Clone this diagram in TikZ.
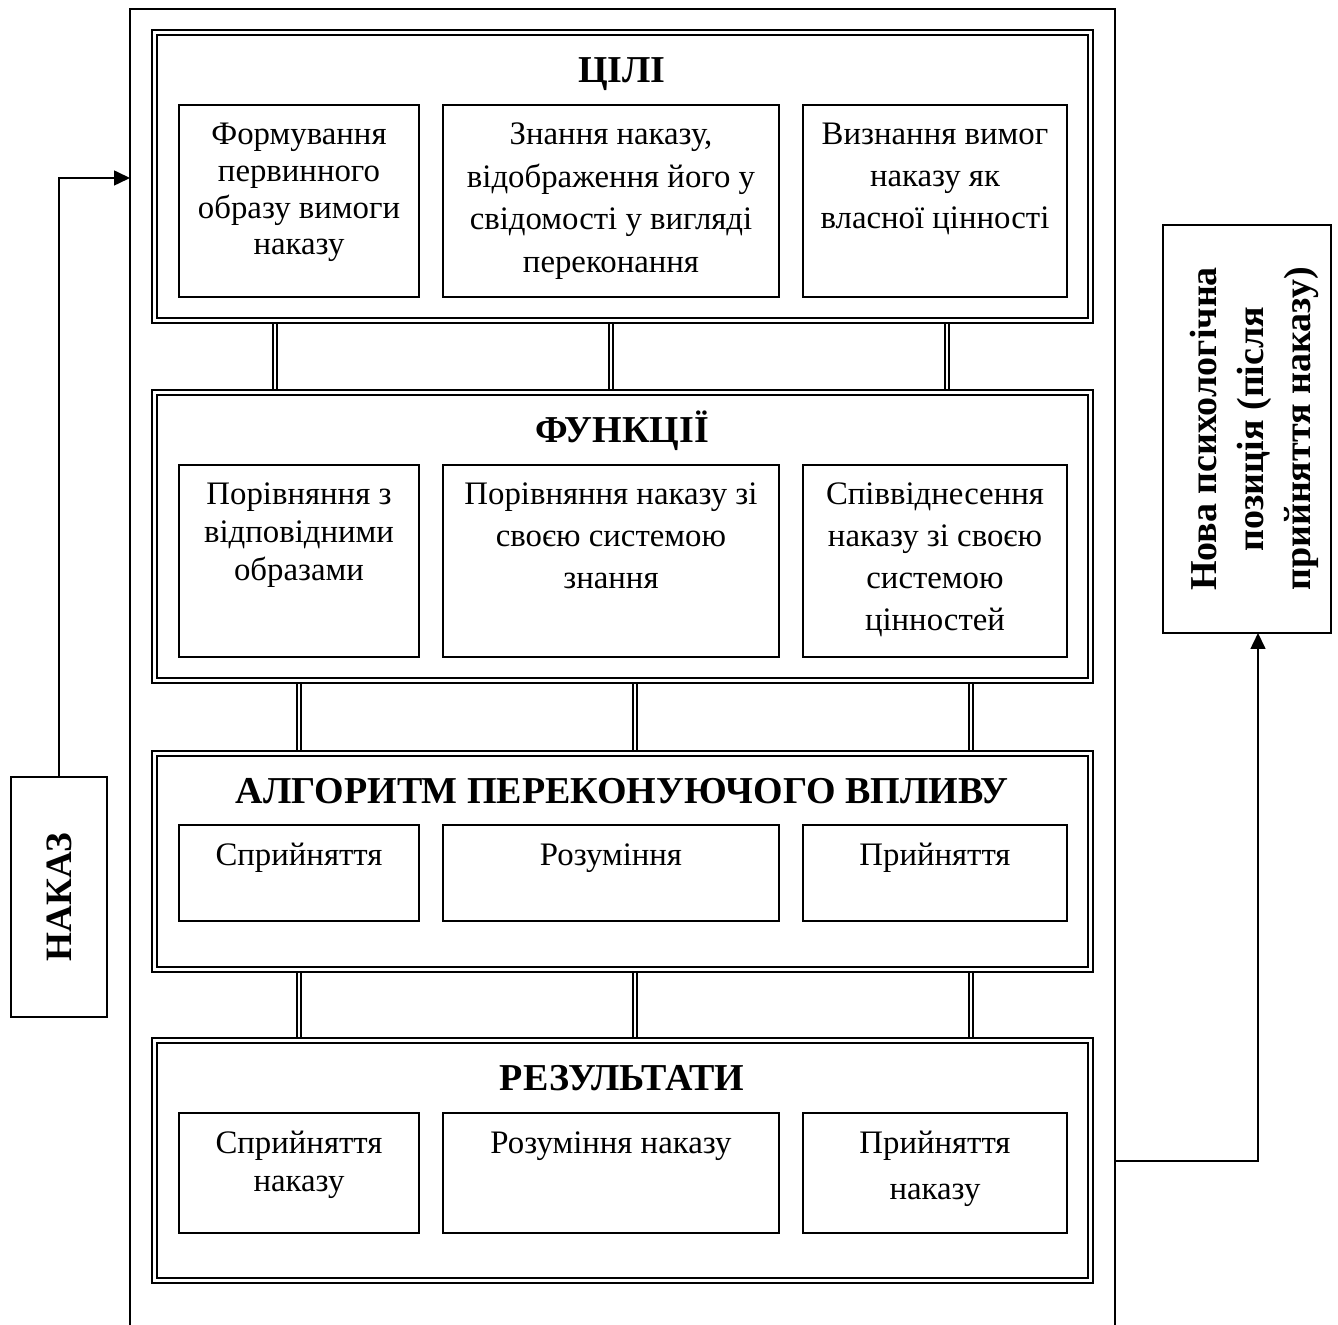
\documentclass[tikz,border=0pt]{standalone}
\usepackage{fontspec}
\setmainfont{Liberation Serif}
\usetikzlibrary{arrows.meta, positioning}

\tikzstyle{outerbox} = [rectangle, draw=black, line width=0.8pt, inner sep=0pt, outer sep=0pt]
\tikzstyle{groupbox} = [rectangle, draw=black, double, double distance=1.5pt, line width=1pt, inner sep=0pt, outer sep=0pt]
\tikzstyle{cellbox} = [rectangle, draw=black, line width=0.8pt, inner sep=0pt, outer sep=0pt]
\tikzstyle{heading} = [inner sep=0pt, font=\fontsize{19}{23}\selectfont\bfseries]
\tikzstyle{sidebox} = [rectangle, draw=black, line width=0.8pt, outer sep=0pt, rotate=90, align=center]
\tikzstyle{link} = [double, double distance=1.25pt, line width=0.75pt, shorten <=1.75pt, shorten >=1.75pt]
\tikzstyle{arrow} = [line width=0.8pt, -{Triangle[length=8pt, width=7.5pt]}]

% text of one cell: height, width, line skip, lines
\newcommand{\cellpar}[4]{\parbox[t][#1][t]{#2}{\centering\fontsize{16.4}{#3}\selectfont\rule{0pt}{20pt}#4}}

\begin{document}
\begin{tikzpicture}[x=0.5pt, y=-0.5pt]
\useasboundingbox (0,0) rectangle (1338,1325);

\node (outer) [outerbox, minimum width=492.5pt, minimum height=668pt] at (622.5,677) {};

% groups
\node (g1) [groupbox, minimum width=468pt, minimum height=143.75pt] at (622,176.75) {};
\node (g2) [groupbox, minimum width=468pt, minimum height=144pt] at (622,536.5) {};
\node (g3) [groupbox, minimum width=468pt, minimum height=108pt] at (622,861) {};
\node (g4) [groupbox, minimum width=468pt, minimum height=120pt] at (622,1160.5) {};

\node (h1) [heading, anchor=base] at (622,83) {ЦІЛІ};
\node (h2) [heading, anchor=base] at (622,442.5) {ФУНКЦІЇ};
\node (h3) [heading, anchor=base] at (622,803) {АЛГОРИТМ ПЕРЕКОНУЮЧОГО ВПЛИВУ};
\node (h4) [heading, anchor=base] at (622,1090.5) {РЕЗУЛЬТАТИ};

% goals
\node (c11) [cellbox, anchor=north west] at (179,105) {\cellpar{96pt}{120pt}{18.3pt}{Формування\\первинного\\образу вимоги\\наказу}};
\node (c12) [cellbox, right=12pt of c11] {\cellpar{96pt}{168pt}{21.2pt}{Знання наказу,\\відображення його у\\свідомості у вигляді\\переконання}};
\node (c13) [cellbox, right=12pt of c12] {\cellpar{96pt}{132pt}{21pt}{Визнання вимог\\наказу як\\власної цінності}};

% functions
\node (c21) [cellbox, anchor=north west] at (179,465) {\cellpar{96pt}{120pt}{19pt}{Порівняння з\\відповідними\\образами}};
\node (c22) [cellbox, right=12pt of c21] {\cellpar{96pt}{168pt}{21pt}{Порівняння наказу зі\\своєю системою\\знання}};
\node (c23) [cellbox, right=12pt of c22] {\cellpar{96pt}{132pt}{21pt}{Співвіднесення\\наказу зі своєю\\системою\\цінностей}};

% algorithm
\node (c31) [cellbox, anchor=north west] at (179,825) {\cellpar{48pt}{120pt}{19pt}{Сприйняття}};
\node (c32) [cellbox, right=12pt of c31] {\cellpar{48pt}{168pt}{19pt}{Розуміння}};
\node (c33) [cellbox, right=12pt of c32] {\cellpar{48pt}{132pt}{19pt}{Прийняття}};

% results
\node (c41) [cellbox, anchor=north west] at (179,1113) {\cellpar{60pt}{120pt}{19pt}{Сприйняття\\наказу}};
\node (c42) [cellbox, right=12pt of c41] {\cellpar{60pt}{168pt}{19pt}{Розуміння наказу}};
\node (c43) [cellbox, right=12pt of c42] {\cellpar{60pt}{132pt}{23pt}{Прийняття\\наказу}};

\foreach \x in {275,611,947}
  \draw[link] (g1.south -| \x,0) -- (g2.north -| \x,0);
\foreach \x in {299,635,971} {
  \draw[link] (g2.south -| \x,0) -- (g3.north -| \x,0);
  \draw[link] (g3.south -| \x,0) -- (g4.north -| \x,0);
}

% order in and new position out
\node (nakaz) [sidebox, minimum width=120pt, minimum height=48pt, font=\fontsize{18.6}{22}\selectfont\bfseries] at (59,897) {НАКАЗ};
\node (pos) [sidebox, minimum width=204pt, minimum height=84pt, font=\fontsize{19}{23.5}\selectfont\bfseries] at (1247,429) {\rule{0pt}{21pt}Нова психологічна\\позиція (після\\прийняття наказу)};

\coordinate (in) at (outer.west |- 0,178);
\coordinate (out) at (outer.east |- 0,1161);
\draw[arrow] (nakaz.east) |- (in);
\draw[arrow] (out) -| ([xshift=5.5pt]pos.west);
\end{tikzpicture}
\end{document}
